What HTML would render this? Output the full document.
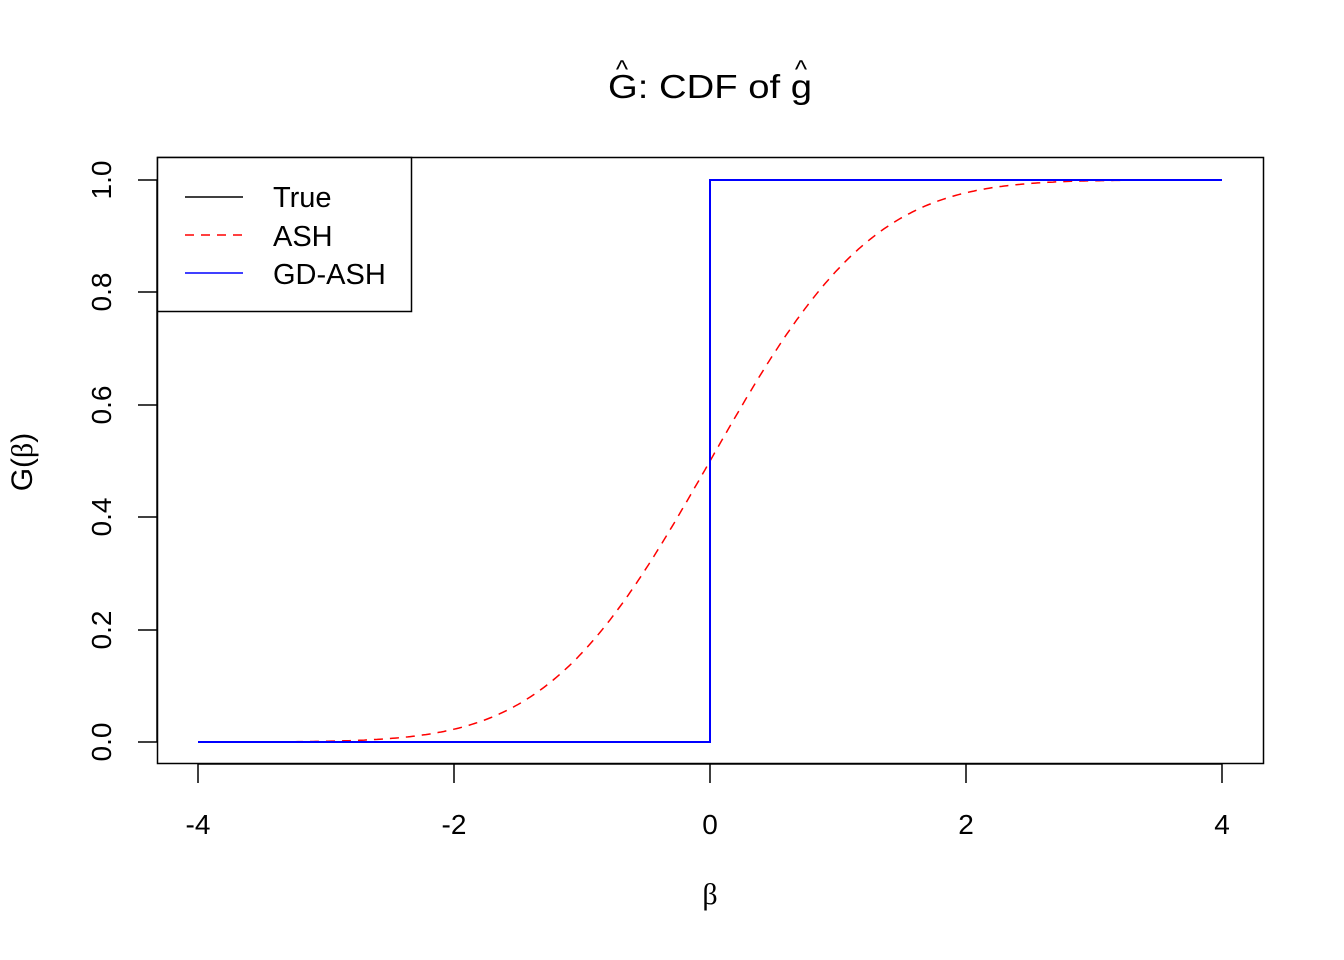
<!DOCTYPE html>
<html><head><meta charset="utf-8"><style>
html,body{margin:0;padding:0;background:#fff;}
svg{display:block;font-family:"Liberation Sans",sans-serif;}
</style></head><body>
<svg id="s" width="1344" height="960" viewBox="0 0 1344 960" xmlns="http://www.w3.org/2000/svg">
<rect width="1344" height="960" fill="#fff"/>
<!-- title -->
<text x="608" y="98" font-size="33" textLength="204" lengthAdjust="spacingAndGlyphs">G: CDF of g</text>
<text x="622" y="78" font-size="26" text-anchor="middle">^</text>
<text x="801" y="78" font-size="26" text-anchor="middle">^</text>
<!-- plot box -->
<rect x="157.5" y="157.5" width="1106" height="606" fill="none" stroke="#000" stroke-width="1.5"/>
<g stroke="#000" stroke-width="1.5">
<line x1="198" y1="764" x2="1222" y2="764"/>
<line x1="198" y1="764" x2="198" y2="783"/>
<line x1="454" y1="764" x2="454" y2="783"/>
<line x1="710" y1="764" x2="710" y2="783"/>
<line x1="966" y1="764" x2="966" y2="783"/>
<line x1="1222" y1="764" x2="1222" y2="783"/>
<line x1="157" y1="180" x2="157" y2="742"/>
<line x1="157" y1="742" x2="138" y2="742"/>
<line x1="157" y1="630" x2="138" y2="630"/>
<line x1="157" y1="517" x2="138" y2="517"/>
<line x1="157" y1="405" x2="138" y2="405"/>
<line x1="157" y1="292" x2="138" y2="292"/>
<line x1="157" y1="180" x2="138" y2="180"/>
</g>
<g font-size="28" text-anchor="middle">
<text x="198" y="834">-4</text>
<text x="454" y="834">-2</text>
<text x="710" y="834">0</text>
<text x="966" y="834">2</text>
<text x="1222" y="834">4</text>
<text transform="translate(111,742) rotate(-90)">0.0</text>
<text transform="translate(111,630) rotate(-90)">0.2</text>
<text transform="translate(111,517) rotate(-90)">0.4</text>
<text transform="translate(111,405) rotate(-90)">0.6</text>
<text transform="translate(111,292) rotate(-90)">0.8</text>
<text transform="translate(111,180) rotate(-90)">1.0</text>
</g>
<text x="710" y="904" font-size="30" text-anchor="middle" font-family="Liberation Serif,serif">β</text>
<text transform="translate(32,462) rotate(-90)" font-size="30" text-anchor="middle">G(<tspan font-family="Liberation Serif,serif">β</tspan>)</text>
<path id="ash" fill="none" stroke="#ff0000" stroke-width="1.5" stroke-dasharray="9,7"/>
<polyline points="198,742 710,742 710,180 1222,180" fill="none" stroke="#0000ff" stroke-width="2"/>
<rect x="157.5" y="157.5" width="254" height="154" fill="#fff" stroke="#000" stroke-width="1.5"/>
<line x1="185" y1="197" x2="243" y2="197" stroke="#000" stroke-width="1.5"/>
<line x1="185" y1="235" x2="243" y2="235" stroke="#ff0000" stroke-width="1.5" stroke-dasharray="9,7"/>
<line x1="185" y1="273" x2="243" y2="273" stroke="#0000ff" stroke-width="1.5"/>
<g font-size="29">
<text x="273" y="207">True</text>
<text x="273" y="246">ASH</text>
<text x="273" y="284">GD-ASH</text>
</g>
</svg>
<script>
function erf(x){var s=x<0?-1:1;x=Math.abs(x);var t=1/(1+0.3275911*x);var y=1-(((((1.061405429*t-1.453152027)*t)+1.421413741)*t-0.284496736)*t+0.254829592)*t*Math.exp(-x*x);return s*y;}
var d="";for(var i=0;i<=400;i++){var b=-4+8*i/400;var v=0.5*(1+erf(b/Math.SQRT2));var px=710+128*b,py=742-562*v;d+=(i?"L":"M")+px.toFixed(1)+","+py.toFixed(1);}
document.getElementById("ash").setAttribute("d",d);
</script>
</body></html>
